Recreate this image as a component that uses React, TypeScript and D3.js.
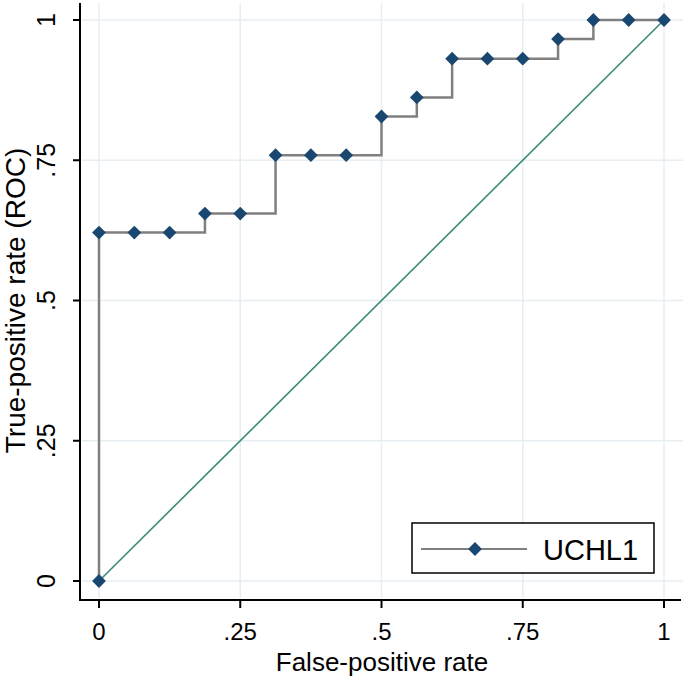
import React from "react";
import * as d3 from "d3";

// ROC points for UCHL1 (false-positive rate, true-positive rate)
const fpr = [0, 0, 0.0625, 0.125, 0.1875, 0.25, 0.3125, 0.375, 0.4375, 0.5, 0.5625, 0.625, 0.6875, 0.75, 0.8125, 0.875, 0.9375, 1];
const tpr = [0, 0.621, 0.621, 0.621, 0.655, 0.655, 0.759, 0.759, 0.759, 0.828, 0.862, 0.931, 0.931, 0.931, 0.966, 1, 1, 1];
const tickValues = [0, 0.25, 0.5, 0.75, 1];
const tickLabels = ["0", ".25", ".5", ".75", "1"];
const seriesName = "UCHL1";

const W = 685, H = 678;
const font = "'Liberation Sans', Arial, sans-serif";

const App = () => {
    const x = d3.scaleLinear().domain([0, 1]).range([99, 664]);
    const y = d3.scaleLinear().domain([0, 1]).range([581, 20]);
    const pts = fpr.map((f, i) => [f, tpr[i]]);

    const step = d3.line()
        .x(d => x(d[0]))
        .y(d => y(d[1]))
        .curve(d3.curveStepAfter);

    const diamond = d3.symbol(d3.symbolSquare, 95)();
    const gridColor = "#e6eef2";

    return (
        <svg width={W} height={H} style={{ position: "absolute", left: 0, top: 0 }} fontFamily={font}>
            <rect width={W} height={H} fill="#fff" />
            {/* grid */}
            {tickValues.map(t => (
                <g key={"g" + t}>
                    <line x1={x(t)} x2={x(t)} y1={3} y2={598} stroke={gridColor} strokeWidth={1.5} />
                    <line x1={82} x2={683} y1={y(t)} y2={y(t)} stroke={gridColor} strokeWidth={1.5} />
                </g>
            ))}
            {/* reference diagonal */}
            <line x1={x(0)} y1={y(0)} x2={x(1)} y2={y(1)} stroke="#3b8b76" strokeWidth={1.6} />
            {/* ROC step curve */}
            <path d={step(pts)} fill="none" stroke="#808080" strokeWidth={2.5} />
            {pts.map((d, i) => (
                <path key={i} d={diamond} transform={`translate(${x(d[0])},${y(d[1])}) rotate(45)`} fill="#1a476f" />
            ))}
            {/* axes */}
            <line x1={80} x2={80} y1={3} y2={601} stroke="#000" strokeWidth={2} />
            <line x1={79} x2={681} y1={600} y2={600} stroke="#000" strokeWidth={2} />
            {tickValues.map((t, i) => (
                <g key={"t" + t}>
                    <line x1={73} x2={80} y1={y(t)} y2={y(t)} stroke="#000" strokeWidth={2} />
                    <text transform={`translate(55,${y(t)}) rotate(-90)`} textAnchor="middle" fontSize={25}>{tickLabels[i]}</text>
                    <line x1={x(t)} x2={x(t)} y1={600} y2={608} stroke="#000" strokeWidth={2} />
                    <text x={x(t)} y={640} textAnchor="middle" fontSize={24}>{tickLabels[i]}</text>
                </g>
            ))}
            <text x={382} y={671} textAnchor="middle" fontSize={26}>False-positive rate</text>
            <text transform={`translate(25,${y(0.5)}) rotate(-90)`} textAnchor="middle" fontSize={28}>True-positive rate (ROC)</text>
            {/* legend */}
            <rect x={412} y={523} width={242} height={50} fill="#fff" stroke="#000" strokeWidth={1.5} />
            <line x1={421} x2={527} y1={549} y2={549} stroke="#808080" strokeWidth={2} />
            <path d={diamond} transform="translate(475,549) rotate(45)" fill="#1a476f" />
            <text x={543} y={560} fontSize={29}>{seriesName}</text>
        </svg>
    );
};

export default App;
